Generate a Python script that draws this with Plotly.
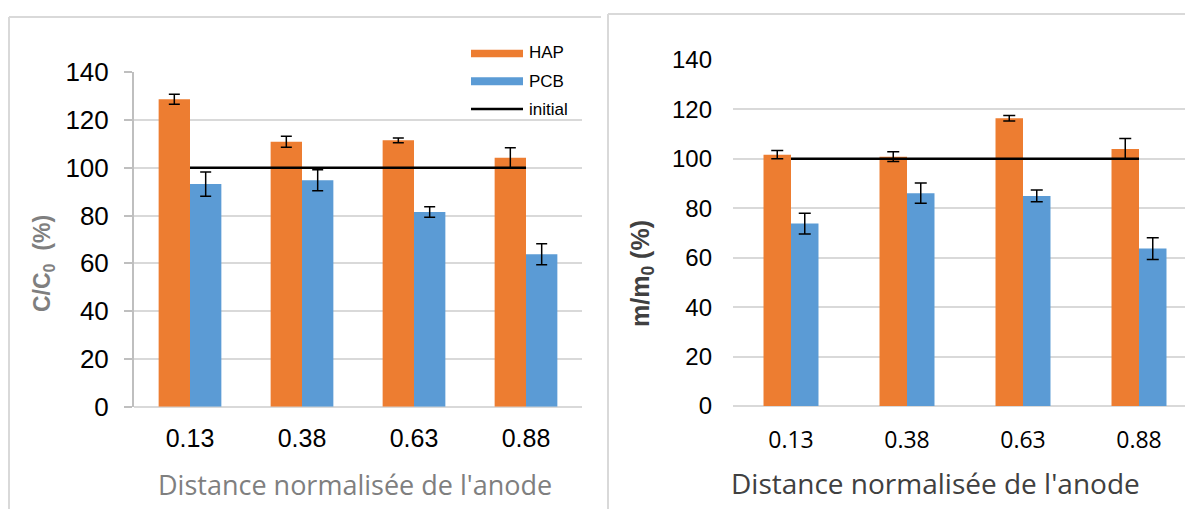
import plotly.graph_objects as go

categories = ["0.13", "0.38", "0.63", "0.88"]
hap_c = [128.7, 110.9, 111.5, 104.2]
hap_c_err = [2.1, 2.3, 1.0, 4.2]
pcb_c = [93.2, 94.8, 81.5, 63.8]
pcb_c_err = [5.1, 4.4, 2.2, 4.4]
hap_m = [101.7, 100.9, 116.4, 104.0]
hap_m_err = [1.7, 2.0, 1.1, 4.2]
pcb_m = [73.8, 86.1, 85.0, 63.7]
pcb_m_err = [4.2, 4.1, 2.4, 4.4]
initial = [100, 100, 100, 100]

W, H = 1193, 509
OX, OY = 8, 8  # page body margin offset


def px(x):
    return (x - OX) / W


def py(y):
    return 1 - (y - OY) / H


ORANGE = "#ED7D31"
BLUE = "#5B9BD5"
GRID = "#d9d9d9"

fig = go.Figure()


def err(arr, w):
    return dict(type="data", array=arr, color="black", thickness=1.5, width=w)


wl = 0.28
fig.add_trace(go.Bar(x=categories, y=hap_c, name="HAP", width=wl, offset=-wl,
                     marker=dict(color=ORANGE, line=dict(width=0)),
                     error_y=err(hap_c_err, 5.5), xaxis="x", yaxis="y", showlegend=False))
fig.add_trace(go.Bar(x=categories, y=pcb_c, name="PCB", width=wl, offset=0,
                     marker=dict(color=BLUE, line=dict(width=0)),
                     error_y=err(pcb_c_err, 5.5), xaxis="x", yaxis="y", showlegend=False))
fig.add_trace(go.Scatter(x=categories, y=initial, name="initial", mode="lines",
                         line=dict(color="black", width=2.5), xaxis="x", yaxis="y", showlegend=False))

wr = 0.237
fig.add_trace(go.Bar(x=categories, y=hap_m, name="HAP", width=wr, offset=-wr,
                     marker=dict(color=ORANGE, line=dict(width=0)),
                     error_y=err(hap_m_err, 6), xaxis="x2", yaxis="y2", showlegend=False))
fig.add_trace(go.Bar(x=categories, y=pcb_m, name="PCB", width=wr, offset=0,
                     marker=dict(color=BLUE, line=dict(width=0)),
                     error_y=err(pcb_m_err, 6), xaxis="x2", yaxis="y2", showlegend=False))
fig.add_trace(go.Scatter(x=categories, y=initial, name="initial", mode="lines",
                         line=dict(color="black", width=2.5), xaxis="x2", yaxis="y2", showlegend=False))

common_x = dict(type="category", categoryorder="array", categoryarray=categories,
                showgrid=False, showline=False, zeroline=False, ticks="",
                automargin=False, fixedrange=True)
common_y = dict(range=[0, 140], dtick=20, tick0=0, showgrid=True, gridcolor=GRID, gridwidth=2,
                zeroline=True, zerolinecolor=GRID, zerolinewidth=2,
                automargin=False, fixedrange=True)

fig.update_layout(
    width=W, height=H,
    margin=dict(l=0, r=0, t=0, b=0, pad=0, autoexpand=False),
    autosize=False,
    template="none",
    paper_bgcolor="white", plot_bgcolor="white",
    barmode="overlay",
    showlegend=False,
    xaxis=dict(domain=[px(134), px(582)], range=[-0.5, 3.5], anchor="y",
               ticklabelstandoff=14,
               tickfont=dict(family="Liberation Sans, Arial", size=25, color="#000000"),
               **common_x),
    yaxis=dict(domain=[py(406.7), py(72.3)], anchor="x",
               showline=True, linecolor="#bfbfbf", linewidth=2,
               ticks="outside", ticklen=8, tickcolor="#bfbfbf", tickwidth=2,
               ticklabelstandoff=10,
               tickfont=dict(family="Liberation Sans, Arial", size=26, color="#000000"),
               **common_y),
    xaxis2=dict(domain=[px(733), 1.0], range=[-0.5, -0.5 + (W + OX - 733) / 116.0], anchor="y2",
                ticklabelstandoff=18,
                tickfont=dict(family="Open Sans", size=23, color="#000000"),
                **common_x),
    yaxis2=dict(domain=[py(406), py(60)], anchor="x2", showline=False, ticks="",
                ticklabelstandoff=20,
                tickfont=dict(family="Liberation Sans, Arial", size=24, color="#000000"),
                **common_y),
)

shapes = [
    # panel borders
    dict(type="line", xref="paper", yref="paper", x0=px(9), x1=px(601), y0=py(17), y1=py(17),
         line=dict(color=GRID, width=2)),
    dict(type="line", xref="paper", yref="paper", x0=px(9), x1=px(9), y0=py(17), y1=py(530),
         line=dict(color=GRID, width=2)),
    dict(type="line", xref="paper", yref="paper", x0=px(608), x1=px(1210), y0=py(14), y1=py(14),
         line=dict(color=GRID, width=2)),
    dict(type="line", xref="paper", yref="paper", x0=px(608), x1=px(608), y0=py(14), y1=py(530),
         line=dict(color=GRID, width=2)),
    # legend swatches
    dict(type="rect", xref="paper", yref="paper", x0=px(471), x1=px(523), y0=py(57.3), y1=py(49.7),
         fillcolor=ORANGE, line=dict(width=0)),
    dict(type="rect", xref="paper", yref="paper", x0=px(471), x1=px(523), y0=py(85.3), y1=py(77.3),
         fillcolor=BLUE, line=dict(width=0)),
    dict(type="line", xref="paper", yref="paper", x0=px(471), x1=px(523), y0=py(109), y1=py(109),
         line=dict(color="black", width=2.5)),
]

LEG = dict(family="Liberation Sans, Arial", size=17, color="#000000")
TITLE = "Distance normalisée de l'anode"
annotations = [
    dict(text="HAP", x=px(527), y=py(52.5), xanchor="left", yanchor="middle", font=LEG),
    dict(text="PCB", x=px(527), y=py(81), xanchor="left", yanchor="middle", font=LEG),
    dict(text="initial", x=px(527), y=py(109), xanchor="left", yanchor="middle", font=LEG),
    dict(text=TITLE, x=px(354.5), y=py(484), xanchor="center", yanchor="middle",
         font=dict(family="Open Sans", size=27, color="#7f7f7f")),
    dict(text=TITLE, x=px(935.5), y=py(483), xanchor="center", yanchor="middle",
         font=dict(family="Open Sans", size=28, color="#404040")),
    dict(text="<b>C/C<sub>0</sub>  (%)</b>", x=px(44), y=py(264), xanchor="center", yanchor="middle",
         textangle=-90, font=dict(family="Liberation Sans, Arial", size=23, color="#7f7f7f")),
    dict(text="<b>m/m<sub>0</sub> (%)</b>", x=px(642), y=py(274), xanchor="center", yanchor="middle",
         textangle=-90, font=dict(family="Liberation Sans, Arial", size=25, color="#404040")),
]
for a in annotations:
    a.update(xref="paper", yref="paper", showarrow=False)

fig.update_layout(shapes=shapes, annotations=annotations)
fig.write_html("out.html")
